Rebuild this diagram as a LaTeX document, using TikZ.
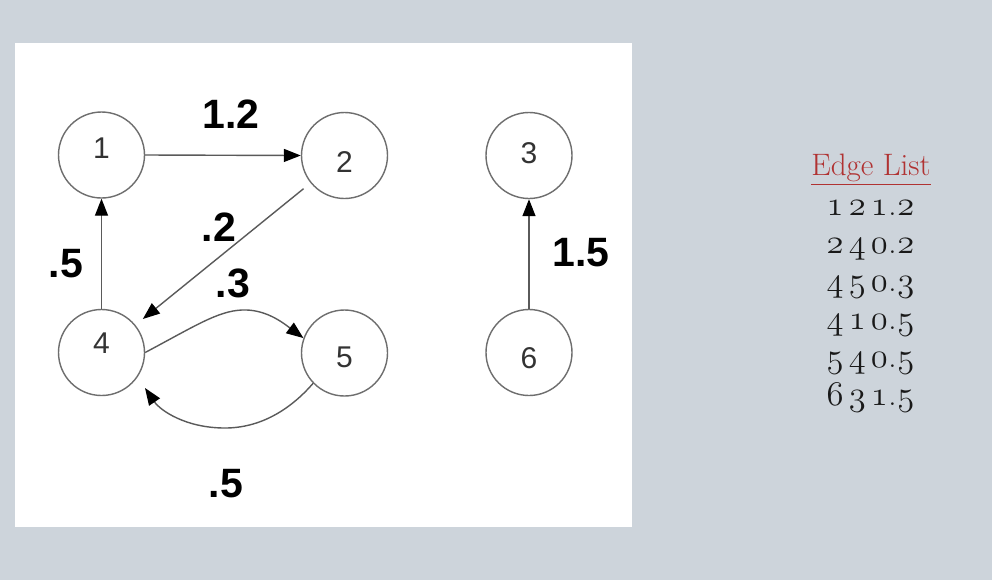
\documentclass[tikz,border=0pt]{standalone}
\usepackage{fontspec}
\usetikzlibrary{arrows.meta}
\newfontfamily\labelsans{Liberation Sans}
\definecolor{pagebg}{RGB}{205,212,219}
\definecolor{edgegray}{RGB}{90,90,90}
\definecolor{ringgray}{RGB}{110,110,110}
\definecolor{listred}{RGB}{176,50,50}
\definecolor{listink}{RGB}{25,25,25}
% old-style figures taken from the math italic font
\newcommand{\osf}[1]{{\usefont{OML}{cmm}{m}{it}#1}}
% one row of the edge list: source, target, weight (integer and decimal parts)
\newcommand{\edgerow}[4]{\osf{#1}\hspace{2.6pt}\osf{#2}\hspace{2.6pt}\osf{#3}\kern0.3pt.\kern0.3pt\osf{#4}}

\begin{document}
\begin{tikzpicture}[x=0.5pt,y=-0.5pt,
  vert/.style={circle, draw=ringgray, line width=0.7pt, minimum size=43pt,
               inner sep=0pt, fill=white},
  num/.style={font=\labelsans\fontsize{15}{18}\selectfont, text=black!80},
  wt/.style={font=\labelsans\bfseries\fontsize{20.5}{24}\selectfont, text=black},
  arc/.style={draw=edgegray, line width=0.7pt,
              -{Triangle[length=8.5pt,width=6.5pt,color=black]}},
  listrow/.style={anchor=base, font=\fontsize{16.5}{19}\selectfont, text=listink, inner sep=0pt}]

% page and panel
\fill[pagebg] (0,0) rectangle (992,580);
\fill[white] (15,43) rectangle (632,527);

% vertices
\node[vert, label={[num,yshift=3.5pt]center:1}]   (n1) at (101.5,155) {};
\node[vert, label={[num,yshift=-3.25pt]center:2}] (n2) at (344.5,155.5) {};
\node[vert, label={[num,yshift=1.25pt]center:3}]  (n3) at (529,155.5) {};
\node[vert, label={[num,yshift=4.75pt]center:4}]  (n4) at (101.5,352.5) {};
\node[vert, label={[num,yshift=-2pt]center:5}]    (n5) at (344.5,353) {};
\node[vert, label={[num,yshift=-2.75pt]center:6}] (n6) at (529,352.5) {};

% free end of the 5 -> 4 arc
\coordinate (c54) at (145,388);

% edges
\draw[arc] (n1.east) -- (n2.west);
\draw[arc, shorten <=4.5pt, shorten >=4.75pt] (n2) -- (n4);
\draw[arc] (n4.north) -- (n1.south);
\draw[arc] (n6.north) -- (n3.south);
\draw[arc] (n4.east) .. controls (195,326) and (218,311) .. (242,310)
                     .. controls (265,309) and (282,322) .. (n5.160);
\draw[arc] (n5.224) .. controls (290,410) and (260,428) .. (225,428)
                    .. controls (185,428) and (160,410) .. (c54);

% weights
\node[wt] (w12) at (231,114) {1.2};
\node[wt] (w24) at (219,227) {.2};
\node[wt] (w41) at (66,264) {.5};
\node[wt] (w45) at (233,283) {.3};
\node[wt] (w54) at (226,484) {.5};
\node[wt] (w63) at (581,253) {1.5};

% edge list
\node[anchor=base, font=\fontsize{15.5}{18}\selectfont, text=listred, inner sep=0pt]
  (title) at (871,175) {\underline{Edge List}};
\node[listrow] (r1) at (870.5,215) {\edgerow{1}{2}{1}{2}};
\node[listrow] (r2) at (870.5,253) {\edgerow{2}{4}{0}{2}};
\node[listrow] (r3) at (870.5,291) {\edgerow{4}{5}{0}{3}};
\node[listrow] (r4) at (870.5,329) {\edgerow{4}{1}{0}{5}};
\node[listrow] (r5) at (870.5,367) {\edgerow{5}{4}{0}{5}};
\node[listrow] (r6) at (870.5,405) {\edgerow{6}{3}{1}{5}};
\end{tikzpicture}
\end{document}
